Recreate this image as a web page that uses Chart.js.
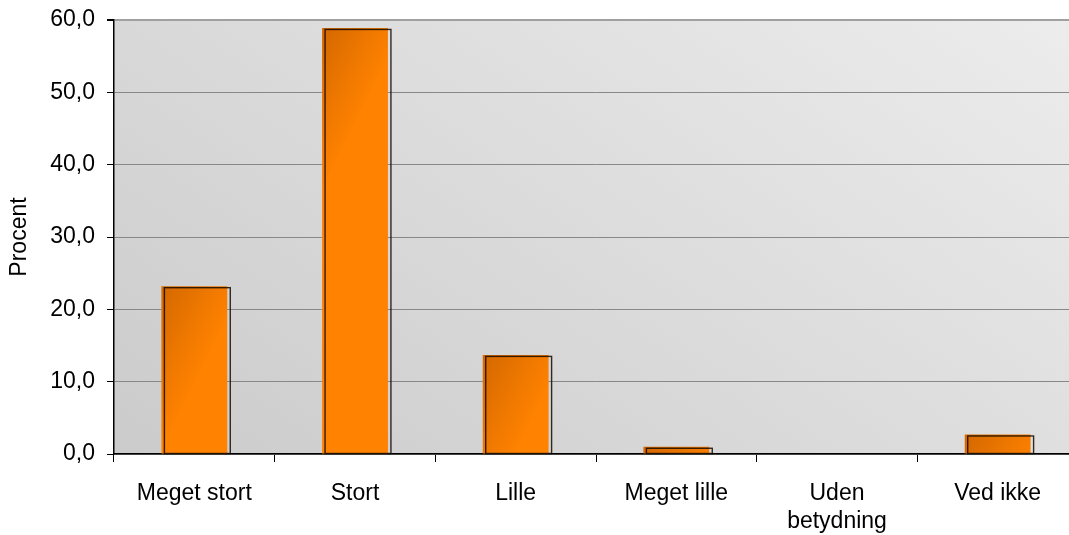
<!DOCTYPE html>
<html>
<head>
<meta charset="utf-8">
<script src="https://cdn.jsdelivr.net/npm/chart.js@4"></script>
<style>
  html, body { margin: 0; padding: 0; background: #fff; overflow: hidden; }
  #wrap { width: 1069px; height: 535px; overflow: hidden; }
</style>
</head>
<body>
<div id="wrap"><canvas id="chart" width="1080" height="535"></canvas></div>
<script>
// data
var categories = ["Meget stort", "Stort", "Lille", "Meget lille", ["Uden", "betydning"], "Ved ikke"];
var values = [23.2, 58.9, 13.7, 1.0, 0, 2.7];
var yMin = 0, yMax = 60, yStep = 10;
var axisTitle = "Procent";

var barPct = 0.41;
var fontFamily = "'Liberation Sans', Arial, sans-serif";

// grey gradient behind the plot
var plotBg = {
  id: 'plotBg',
  beforeDraw: function(chart) {
    var a = chart.chartArea, c = chart.ctx;
    if (!a) return;
    var g = c.createLinearGradient(a.left, a.bottom, a.left + 500, a.top - 300);
    g.addColorStop(0, '#cbcbcb');
    g.addColorStop(1, '#ececec');
    c.save();
    c.fillStyle = g;
    c.fillRect(a.left, a.top, a.right - a.left, a.bottom - a.top);
    c.restore();
  }
};

// dark outline slightly shifted, like the old office chart
var barOutline = {
  id: 'barOutline',
  afterDatasetsDraw: function(chart) {
    var c = chart.ctx;
    var meta = chart.getDatasetMeta(0);
    c.save();
    c.strokeStyle = 'rgba(20,10,0,0.85)';
    c.lineWidth = 1.4;
    meta.data.forEach(function(bar, i) {
      if (!values[i]) return;
      var w = bar.width;
      var x = bar.x - w / 2 + 3;
      var y = bar.y + 1.5;
      c.strokeRect(x, y, w, bar.base - y);
    });
    c.restore();
  }
};

var ctx = document.getElementById("chart").getContext('2d');
var chart = new Chart(ctx, {
  type: 'bar',
  data: {
    labels: categories,
    datasets: [{
      data: values,
      barPercentage: barPct,
      categoryPercentage: 1,
      borderWidth: 0,
      backgroundColor: function(c) {
        var ch = c.chart;
        var xs = ch.scales.x, ys = ch.scales.y;
        if (!ch.chartArea || !xs || !ys) return '#f07800';
        var cx = xs.getPixelForValue(c.dataIndex);
        var hw = xs.width / categories.length * barPct / 2;
        var top = ys.getPixelForValue(values[c.dataIndex]);
        var g = ch.ctx.createLinearGradient(cx - hw, top, cx + hw, top + hw);
        g.addColorStop(0, '#d46800');
        g.addColorStop(1, '#ff8200');
        return g;
      }
    }]
  },
  options: {
    responsive: false,
    animation: false,
    layout: { padding: { top: 20, right: 2, left: 0, bottom: 0 } },
    plugins: {
      legend: { display: false },
      tooltip: { enabled: false }
    },
    scales: {
      x: {
        offset: true,
        grid: {
          offset: true,
          drawOnChartArea: false,
          drawTicks: true,
          tickLength: 8,
          tickColor: '#000',
          tickWidth: 1
        },
        border: { color: '#000', width: 1.5 },
        ticks: {
          color: '#000',
          padding: 18,
          maxRotation: 0,
          autoSkip: false,
          font: { family: fontFamily, size: 23, lineHeight: 1.22 }
        },
        afterFit: function(s) { s.height = 81; s.paddingLeft = 0; s.paddingRight = 0; }
      },
      y: {
        min: yMin,
        max: yMax,
        grid: {
          color: function(c) { return c.tick && c.tick.value === yMax ? '#a0a0a0' : '#888'; },
          lineWidth: function(c) { return c.tick && c.tick.value === yMax ? 2 : 1; },
          tickLength: 7,
          tickColor: '#000'
        },
        border: { color: '#000', width: 1.5 },
        ticks: {
          stepSize: yStep,
          color: '#000',
          padding: 12,
          font: { family: fontFamily, size: 23 },
          callback: function(v) { return v.toFixed(1).replace('.', ','); }
        },
        title: {
          display: true,
          text: axisTitle,
          color: '#000',
          padding: { top: 6, bottom: 0 },
          font: { family: fontFamily, size: 23 }
        },
        afterFit: function(s) { s.width = 114; s.paddingTop = 0; s.paddingBottom = 0; }
      }
    }
  },
  plugins: [plotBg, barOutline]
});
</script>
</body>
</html>
